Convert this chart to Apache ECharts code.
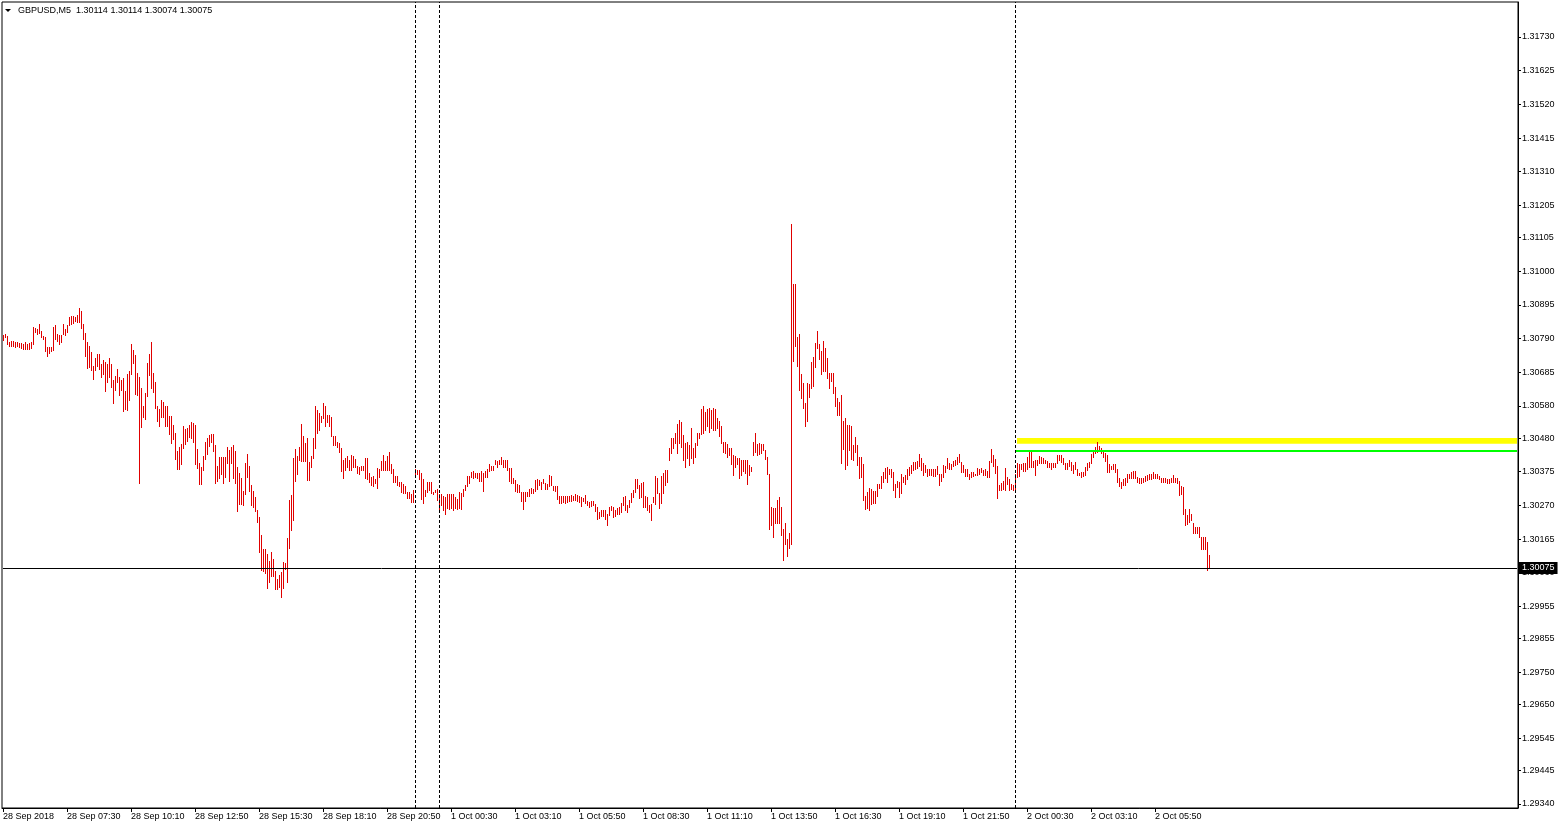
<!DOCTYPE html>
<html>
<head>
<meta charset="utf-8">
<script src="https://cdn.jsdelivr.net/npm/echarts@6/dist/echarts.min.js"></script>
<style>
html,body{margin:0;padding:0;background:#fff;}
#chart{width:1559px;height:829px;}
</style>
</head>
<body>
<div id="chart"></div>
<script>
// ---- Data (M5 bars, high / low) ----
const highs1 = [
1.30801,1.30804,1.30798,1.30780,1.30783,1.30783,1.30778,1.30780,1.30777,1.30775,
1.30773,1.30778,1.30773,1.30775,1.30780,1.30827,1.30824,1.30819,1.30836,1.30814,
1.30799,1.30796,1.30764,1.30764,1.30764,1.30827,1.30833,1.30805,1.30802,1.30802,
1.30837,1.30819,1.30833,1.30858,1.30861,1.30861,1.30858,1.30864,1.30886,1.30877,
1.30834,1.30806,1.30780,1.30768,1.30747,1.30706,1.30730,1.30743,1.30743,1.30711,
1.30722,1.30716,1.30712,1.30728,1.30710,1.30662,1.30674,1.30696,1.30671,1.30661,
1.30668,1.30627,1.30680,1.30690,1.30772,1.30753,1.30739,1.30683,1.30671,1.30637,
1.30581,1.30621,1.30715,1.30743,1.30780,1.30684,1.30655,1.30580,1.30571,1.30598,
1.30591,1.30580,1.30580,1.30548,1.30548,1.30522,1.30495,1.30439,1.30453,1.30460,
1.30518,1.30509,1.30512,1.30520,1.30531,1.30527,1.30521,1.30447,1.30403,1.30390,
1.30425,1.30468,1.30480,1.30488,1.30494,1.30493,1.30459,1.30394,1.30422,1.30422,
1.30422,1.30422,1.30453,1.30444,1.30453,1.30458,1.30439,1.30390,1.30370,1.30356,
1.30316,1.30403,1.30431,1.30393,1.30334,1.30314,1.30297,1.30255,1.30235,1.30178,
1.30134,1.30135,1.30120,1.30098,1.30126,1.30102,1.30066,1.30041,1.30052,1.30063,
1.30094,1.30091,1.30167,1.30287,1.30303,1.30419,1.30447,1.30425,1.30453];
const lows1 = [
1.30785,1.30794,1.30772,1.30768,1.30767,1.30767,1.30764,1.30768,1.30764,1.30762,
1.30758,1.30757,1.30756,1.30758,1.30762,1.30773,1.30811,1.30803,1.30806,1.30796,
1.30788,1.30752,1.30736,1.30744,1.30752,1.30754,1.30788,1.30783,1.30773,1.30778,
1.30803,1.30801,1.30810,1.30833,1.30837,1.30839,1.30845,1.30842,1.30843,1.30822,
1.30790,1.30736,1.30699,1.30702,1.30692,1.30663,1.30692,1.30705,1.30694,1.30669,
1.30681,1.30627,1.30655,1.30671,1.30640,1.30590,1.30629,1.30654,1.30615,1.30629,
1.30563,1.30569,1.30567,1.30599,1.30681,1.30715,1.30618,1.30613,1.30339,1.30513,
1.30546,1.30539,1.30612,1.30675,1.30637,1.30625,1.30575,1.30533,1.30519,1.30546,
1.30545,1.30516,1.30516,1.30494,1.30466,1.30477,1.30415,1.30382,1.30385,1.30398,
1.30448,1.30463,1.30472,1.30484,1.30479,1.30468,1.30398,1.30388,1.30336,1.30337,
1.30380,1.30414,1.30429,1.30455,1.30467,1.30440,1.30339,1.30347,1.30356,1.30368,
1.30339,1.30359,1.30401,1.30347,1.30401,1.30356,1.30339,1.30253,1.30274,1.30273,
1.30270,1.30305,1.30359,1.30314,1.30272,1.30264,1.30252,1.30217,1.30126,1.30070,
1.30066,1.30060,1.30013,1.30032,1.30051,1.30050,1.30009,1.30008,1.30017,1.29985,
1.30013,1.30071,1.30031,1.30138,1.30193,1.30224,1.30347,1.30367,1.30411];
const highs2 = [
1.30525,1.30485,1.30464,1.30479,1.30404,1.30424,1.30479,1.30581,1.30568,1.30559,
1.30550,1.30588,1.30581,1.30552,1.30552,1.30547,1.30485,1.30485,1.30469,1.30464,
1.30448,1.30412,1.30417,1.30425,1.30412,1.30427,1.30424,1.30415,1.30393,1.30391,
1.30393,1.30393,1.30417,1.30417,1.30370,1.30360,1.30362,1.30352,1.30386,1.30384,
1.30410,1.30428,1.30410,1.30425,1.30438,1.30399,1.30384,1.30362,1.30362,1.30344,
1.30342,1.30337,1.30332,1.30313,1.30313,1.30306,1.30318,1.30384,1.30381,1.30379,
1.30370,1.30352,1.30318,1.30344,1.30344,1.30344,1.30313,1.30318,1.30322,1.30306,
1.30306,1.30298,1.30296,1.30306,1.30306,1.30306,1.30306,1.30296,1.30289,1.30313,
1.30310,1.30320,1.30334,1.30362,1.30362,1.30373,1.30376,1.30372,1.30372,1.30372,
1.30376,1.30372,1.30378,1.30383,1.30399,1.30393,1.30393,1.30412,1.30407,1.30412,
1.30420,1.30412,1.30412,1.30412,1.30386,1.30386,1.30355,1.30350,1.30337,1.30334,
1.30311,1.30313,1.30311,1.30311,1.30322,1.30324,1.30322,1.30350,1.30353,1.30350,
1.30344,1.30353,1.30339,1.30337,1.30364,1.30362,1.30331,1.30331,1.30331,1.30298,
1.30298,1.30300,1.30300,1.30300,1.30298,1.30301,1.30300,1.30306,1.30303,1.30300,
1.30296,1.30292,1.30303,1.30285,1.30282,1.30284,1.30284,1.30275,1.30264,1.30251,
1.30256,1.30256,1.30256,1.30244,1.30264,1.30269,1.30264,1.30256,1.30261,1.30264,
1.30277,1.30296,1.30298,1.30272,1.30287,1.30308,1.30318,1.30352,1.30352,1.30334,
1.30341,1.30344,1.30298,1.30296,1.30272,1.30275,1.30296,1.30362,1.30355,1.30308,
1.30362,1.30372,1.30381,1.30381,1.30448,1.30479,1.30479,1.30495,1.30524,1.30537,
1.30529,1.30490,1.30464,1.30469,1.30459,1.30511,1.30450,1.30464,1.30495,1.30497,
1.30570,1.30580,1.30562,1.30571,1.30573,1.30568,1.30573,1.30570,1.30542,1.30533,
1.30516,1.30469,1.30469,1.30462,1.30448,1.30448,1.30427,1.30424,1.30419,1.30417,
1.30412,1.30412,1.30412,1.30412,1.30396,1.30391,1.30467,1.30497,1.30462,1.30464];
const lows2 = [
1.30410,1.30410,1.30410,1.30350,1.30350,1.30391,1.30419,1.30450,1.30495,1.30505,
1.30531,1.30542,1.30516,1.30531,1.30516,1.30485,1.30459,1.30459,1.30453,1.30438,
1.30376,1.30355,1.30381,1.30391,1.30379,1.30381,1.30391,1.30389,1.30370,1.30367,
1.30381,1.30381,1.30355,1.30353,1.30344,1.30334,1.30332,1.30339,1.30324,1.30358,
1.30381,1.30381,1.30381,1.30381,1.30381,1.30372,1.30344,1.30344,1.30334,1.30332,
1.30313,1.30310,1.30308,1.30292,1.30292,1.30282,1.30282,1.30365,1.30368,1.30352,
1.30289,1.30279,1.30298,1.30313,1.30318,1.30310,1.30306,1.30313,1.30287,1.30259,
1.30272,1.30256,1.30244,1.30261,1.30259,1.30261,1.30256,1.30261,1.30258,1.30261,
1.30258,1.30298,1.30318,1.30331,1.30341,1.30358,1.30355,1.30358,1.30355,1.30347,
1.30347,1.30316,1.30358,1.30360,1.30376,1.30379,1.30379,1.30399,1.30391,1.30399,
1.30399,1.30389,1.30391,1.30379,1.30347,1.30339,1.30339,1.30316,1.30313,1.30313,
1.30285,1.30259,1.30285,1.30300,1.30300,1.30308,1.30308,1.30316,1.30320,1.30334,
1.30320,1.30339,1.30322,1.30320,1.30329,1.30334,1.30318,1.30316,1.30290,1.30277,
1.30277,1.30282,1.30279,1.30282,1.30285,1.30285,1.30287,1.30287,1.30284,1.30280,
1.30269,1.30285,1.30279,1.30272,1.30266,1.30269,1.30270,1.30254,1.30227,1.30230,
1.30237,1.30237,1.30228,1.30209,1.30240,1.30256,1.30233,1.30238,1.30244,1.30244,
1.30251,1.30270,1.30256,1.30251,1.30264,1.30282,1.30296,1.30313,1.30324,1.30292,
1.30296,1.30266,1.30266,1.30256,1.30248,1.30225,1.30280,1.30275,1.30308,1.30261,
1.30277,1.30310,1.30334,1.30344,1.30412,1.30433,1.30448,1.30464,1.30433,1.30464,
1.30453,1.30412,1.30389,1.30417,1.30396,1.30417,1.30401,1.30422,1.30459,1.30479,
1.30492,1.30495,1.30505,1.30516,1.30500,1.30511,1.30505,1.30505,1.30511,1.30485,
1.30466,1.30438,1.30433,1.30422,1.30427,1.30399,1.30365,1.30391,1.30399,1.30355,
1.30365,1.30376,1.30370,1.30337,1.30365,1.30376,1.30427,1.30438,1.30427,1.30431];
const highs3 = [
1.30463,1.30461,1.30442,1.30421,1.30369,1.30266,1.30262,1.30262,1.30286,1.30297,
1.30266,1.30196,1.30214,1.30165,1.30185,1.31146,1.30959,1.30959,1.30795,1.30804,
1.30681,1.30652,1.30590,1.30653,1.30650,1.30717,1.30733,1.30777,1.30814,1.30772,
1.30751,1.30782,1.30762,1.30730,1.30683,1.30683,1.30683,1.30639,1.30605,1.30593,
1.30614,1.30533,1.30543,1.30520,1.30522,1.30517,1.30458,1.30484,1.30458,1.30421,
1.30421,1.30399,1.30300,1.30312,1.30325,1.30320,1.30314,1.30314,1.30338,1.30338,
1.30362,1.30375,1.30387,1.30390,1.30385,1.30383,1.30375,1.30338,1.30347,1.30343,
1.30369,1.30359,1.30364,1.30385,1.30390,1.30397,1.30404,1.30404,1.30409,1.30430,
1.30419,1.30401,1.30397,1.30382,1.30383,1.30383,1.30383,1.30383,1.30393,1.30369,
1.30367,1.30395,1.30393,1.30418,1.30401,1.30399,1.30409,1.30413,1.30421,1.30430,
1.30406,1.30395,1.30383,1.30382,1.30369,1.30375,1.30375,1.30369,1.30387,1.30385,
1.30387,1.30380,1.30382,1.30377,1.30409,1.30445,1.30427,1.30416,1.30392,1.30333,
1.30340,1.30346,1.30388,1.30359,1.30351,1.30338,1.30333,1.30369,1.30401,1.30399];
const lows3 = [
1.30434,1.30442,1.30416,1.30369,1.30198,1.30208,1.30172,1.30214,1.30214,1.30214,
1.30177,1.30101,1.30149,1.30113,1.30136,1.30151,1.30721,1.30767,1.30705,1.30629,
1.30605,1.30574,1.30518,1.30534,1.30608,1.30636,1.30643,1.30702,1.30762,1.30725,
1.30681,1.30688,1.30688,1.30668,1.30636,1.30658,1.30619,1.30579,1.30553,1.30553,
1.30401,1.30445,1.30382,1.30395,1.30444,1.30416,1.30411,1.30437,1.30395,1.30357,
1.30359,1.30288,1.30258,1.30262,1.30257,1.30276,1.30278,1.30278,1.30299,1.30323,
1.30323,1.30343,1.30356,1.30343,1.30367,1.30359,1.30317,1.30295,1.30328,1.30297,
1.30309,1.30343,1.30338,1.30351,1.30364,1.30372,1.30380,1.30382,1.30388,1.30392,
1.30380,1.30364,1.30375,1.30362,1.30364,1.30364,1.30362,1.30362,1.30369,1.30333,
1.30347,1.30359,1.30375,1.30388,1.30385,1.30383,1.30392,1.30395,1.30399,1.30406,
1.30375,1.30373,1.30362,1.30362,1.30351,1.30359,1.30362,1.30364,1.30366,1.30367,
1.30373,1.30364,1.30366,1.30359,1.30359,1.30404,1.30393,1.30372,1.30292,1.30317,
1.30317,1.30320,1.30317,1.30338,1.30317,1.30320,1.30317,1.30317,1.30359,1.30362];
const highs4 = [
1.30398,1.30401,1.30403,1.30422,1.30437,1.30437,1.30409,1.30413,1.30411,1.30424,
1.30420,1.30417,1.30411,1.30408,1.30403,1.30401,1.30403,1.30401,1.30427,1.30427,
1.30427,1.30417,1.30401,1.30401,1.30413,1.30404,1.30396,1.30406,1.30385,1.30372,
1.30375,1.30375,1.30391,1.30403,1.30406,1.30430,1.30435,1.30451,1.30468,1.30455,
1.30448,1.30437,1.30432,1.30427,1.30399,1.30393,1.30399,1.30399,1.30382,1.30357,
1.30344,1.30352,1.30357,1.30368,1.30368,1.30375,1.30377,1.30377,1.30359,1.30354,
1.30357,1.30357,1.30363,1.30365,1.30367,1.30368,1.30375,1.30368,1.30368,1.30362,
1.30357,1.30354,1.30354,1.30351,1.30351,1.30357,1.30365,1.30357,1.30354,1.30347,
1.30330,1.30326,1.30258,1.30240,1.30258,1.30243,1.30216,1.30204,1.30202,1.30202,
1.30172,1.30172,1.30172,1.30155,1.30114];
const lows4 = [
1.30385,1.30378,1.30378,1.30382,1.30391,1.30389,1.30391,1.30365,1.30396,1.30401,
1.30401,1.30403,1.30401,1.30391,1.30391,1.30385,1.30389,1.30391,1.30401,1.30411,
1.30404,1.30398,1.30382,1.30385,1.30393,1.30380,1.30372,1.30385,1.30365,1.30365,
1.30359,1.30363,1.30365,1.30380,1.30391,1.30403,1.30420,1.30432,1.30437,1.30443,
1.30432,1.30422,1.30409,1.30373,1.30375,1.30382,1.30382,1.30373,1.30344,1.30331,
1.30325,1.30333,1.30333,1.30342,1.30354,1.30357,1.30354,1.30357,1.30342,1.30339,
1.30341,1.30344,1.30346,1.30349,1.30351,1.30351,1.30357,1.30354,1.30354,1.30351,
1.30344,1.30344,1.30342,1.30339,1.30339,1.30344,1.30344,1.30344,1.30339,1.30302,
1.30307,1.30243,1.30209,1.30212,1.30219,1.30224,1.30183,1.30185,1.30183,1.30172,
1.30133,1.30133,1.30133,1.30069,1.30074];

const timeLabels = ['28 Sep 2018','28 Sep 07:30','28 Sep 10:10','28 Sep 12:50','28 Sep 15:30',
  '28 Sep 18:10','28 Sep 20:50','1 Oct 00:30','1 Oct 03:10','1 Oct 05:50','1 Oct 08:30',
  '1 Oct 11:10','1 Oct 13:50','1 Oct 16:30','1 Oct 19:10','1 Oct 21:50','2 Oct 00:30',
  '2 Oct 03:10','2 Oct 05:50'];
const labelEvery = 32;          // bars between time labels
const priceTicks = [1.31730,1.31625,1.31520,1.31415,1.31310,1.31205,1.31105,1.31000,
  1.30895,1.30790,1.30685,1.30580,1.30480,1.30375,1.30270,1.30165,1.30060,1.29955,
  1.29855,1.29750,1.29650,1.29545,1.29445,1.29340];
const daySeparators = [206, 218, 506];   // bar indices of period separators
const lastPrice = 1.30075;
const yellowZone = [1.30462, 1.30480];
const greenLevel = 1.30440;
const levelStartBar = 506;
const totalSlots = 758;                   // visible bar slots incl. chart shift
const titleText = 'GBPUSD,M5  1.30114 1.30114 1.30074 1.30075';

const highs = highs1.concat(highs2, highs3, highs4);
const lows = lows1.concat(lows2, lows3, lows4);
const slots = [];
for (let i = 0; i < totalSlots; i++) slots.push(String(i));
const barData = highs.map((h, i) => [i, lows[i], h]);

const FONT = 'Liberation Sans';
const chart = echarts.init(document.getElementById('chart'), null, {renderer: 'canvas'});
const showLabel = (idx) => idx % labelEvery === 0 && idx / labelEvery < timeLabels.length;
const lastSlot = String(totalSlots - 1);

chart.setOption({
  animation: false,
  backgroundColor: '#fff',
  grid: {left: 2, right: 41, top: 2, bottom: 21, show: true, borderColor: '#000', borderWidth: 1, backgroundColor: 'transparent'},
  graphic: [
    {type: 'polygon', shape: {points: [[5, 9], [11, 9], [8, 12]]}, style: {fill: '#000'}},
    {type: 'text', left: 18, top: 6, style: {text: titleText, font: '9px ' + FONT, fill: '#000'}}
  ],
  xAxis: {
    type: 'category', data: slots, boundaryGap: true,
    axisLine: {show: true, lineStyle: {color: '#000', width: 1}},
    axisTick: {show: true, alignWithLabel: true, interval: showLabel, length: 4, lineStyle: {color: '#000'}},
    axisLabel: {
      interval: showLabel, align: 'left', margin: 4, fontSize: 9, fontFamily: FONT, color: '#000',
      formatter: (v, idx) => timeLabels[idx / labelEvery]
    },
    splitLine: {show: false}
  },
  yAxis: {
    type: 'value', position: 'right', min: 1.29327, max: 1.31839, scale: true,
    axisLine: {show: true, lineStyle: {color: '#000', width: 1}},
    axisTick: {show: true, length: 3, customValues: priceTicks, lineStyle: {color: '#000'}},
    axisLabel: {customValues: priceTicks, margin: 4, fontSize: 9, fontFamily: FONT, color: '#000',
      formatter: (v) => v.toFixed(5)},
    splitLine: {show: false}
  },
  series: [{
    type: 'custom',
    data: barData,
    encode: {x: 0, y: [1, 2]},
    clip: true,
    renderItem: function (params, api) {
      const top = api.coord([api.value(0), api.value(2)]);
      const bot = api.coord([api.value(0), api.value(1)]);
      const px = Math.round(top[0]) + 0.5;
      return {
        type: 'line',
        shape: {x1: px, y1: Math.round(top[1]), x2: px, y2: Math.round(bot[1]) + 1},
        style: {stroke: '#e00000', lineWidth: 1}
      };
    },
    markArea: {
      silent: true,
      itemStyle: {color: '#ffff00'},
      data: [[{xAxis: String(levelStartBar + 1), yAxis: yellowZone[1]}, {xAxis: lastSlot, yAxis: yellowZone[0]}]]
    },
    markLine: {
      silent: true, symbol: ['none', 'none'], animation: false,
      data: [
        [{xAxis: String(levelStartBar), yAxis: greenLevel, lineStyle: {color: '#00ff00', width: 2, type: 'solid'}, label: {show: false}},
         {xAxis: lastSlot, yAxis: greenLevel}],
        ...daySeparators.map(d => ({xAxis: String(d), lineStyle: {color: '#000', width: 1, type: [3, 2]}, label: {show: false}})),
        [{xAxis: '0', yAxis: lastPrice, lineStyle: {color: '#000', width: 1, type: 'solid'},
          label: {show: true, position: 'end', distance: 2, formatter: lastPrice.toFixed(5), color: '#fff',
            backgroundColor: '#000', padding: [2, 3, 1, 3], fontSize: 9, fontFamily: FONT}},
         {xAxis: lastSlot, yAxis: lastPrice}]
      ]
    }
  }]
});
</script>
</body>
</html>
